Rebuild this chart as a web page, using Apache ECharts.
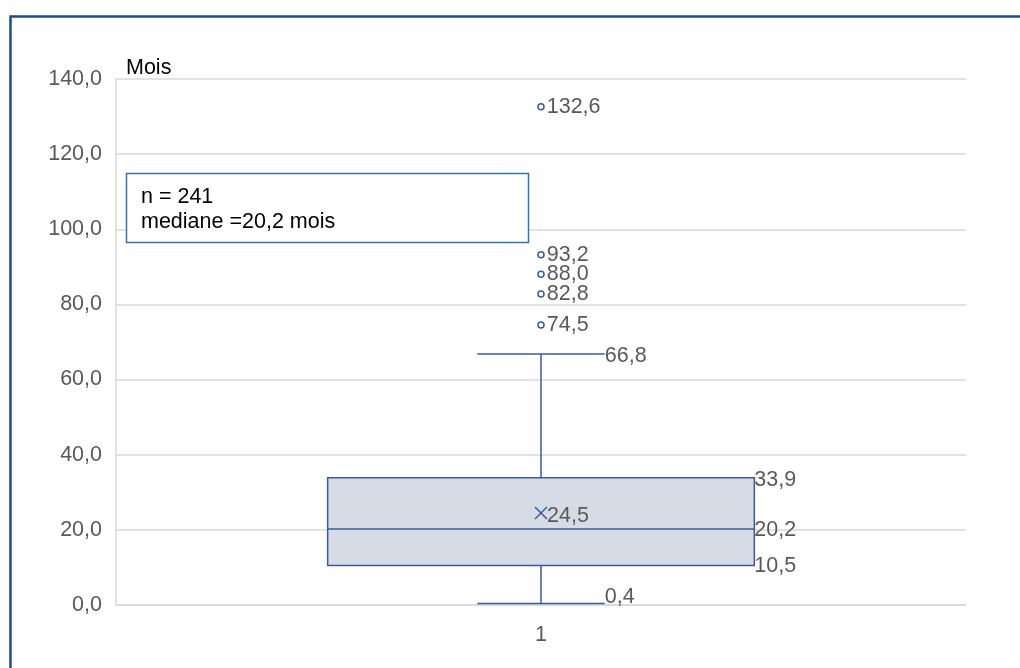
<!DOCTYPE html>
<html>
<head>
<meta charset="utf-8">
<script src="https://cdn.jsdelivr.net/npm/echarts@6/dist/echarts.min.js"></script>
<style>
html,body{margin:0;padding:0;background:#fff;}
#chart{width:1020px;height:668px;}
</style>
</head>
<body>
<div id="chart"></div>
<script>
// ---- data ----
const categories = ['1'];
const boxStats = [0.4, 10.5, 20.2, 33.9, 66.8]; // min, Q1, median, Q3, max
const meanValue = 24.5;
const outliers = [132.6, 93.2, 88.0, 82.8, 74.5];
const yMin = 0, yMax = 140, yInterval = 20;
const axisTitle = 'Mois';
const annotationLines = ['n = 241', 'mediane =20,2 mois'];

const FONT = '"Liberation Sans", Arial, sans-serif';
const FS = 21.5;
const GRAY = '#595959';
const BLUE = '#3A5A9E';
const fmt = v => v.toFixed(1).replace('.', ',');

const chart = echarts.init(document.getElementById('chart'));

const option = {
  animation: false,
  backgroundColor: '#fff',
  textStyle: { fontFamily: FONT },
  grid: { left: 116, right: 54, top: 79, bottom: 63 },
  xAxis: {
    type: 'category',
    data: categories,
    axisLine: { show: true, lineStyle: { color: '#d9d9d9', width: 1.5 } },
    axisTick: { show: false },
    axisLabel: { color: GRAY, fontSize: FS, fontFamily: FONT, margin: 19 },
    splitLine: { show: false }
  },
  yAxis: {
    type: 'value',
    min: yMin, max: yMax, interval: yInterval,
    axisLine: { show: true, lineStyle: { color: '#d9d9d9', width: 1.5 } },
    axisTick: { show: false },
    axisLabel: { color: GRAY, fontSize: FS, fontFamily: FONT, margin: 14, formatter: v => fmt(v) },
    splitLine: { show: true, lineStyle: { color: '#d9d9d9', width: 1.5 } }
  },
  graphic: [
    { type: 'rect', z: 100, shape: { x: 10.5, y: 16.5, width: 1200, height: 1000 },
      style: { fill: 'none', stroke: '#1B4F84', lineWidth: 2.5 } },
    { type: 'text', z: 100, x: 126, y: 68,
      style: { text: axisTitle, fill: '#000', fontSize: FS, fontFamily: FONT, verticalAlign: 'middle' } },
    { type: 'rect', z: 100, shape: { x: 126.5, y: 173.5, width: 402, height: 69 },
      style: { fill: '#fff', stroke: '#2E75B6', lineWidth: 1.5 } },
    { type: 'text', z: 101, x: 141, y: 197,
      style: { text: annotationLines[0], fill: '#000', fontSize: FS, fontFamily: FONT, verticalAlign: 'middle' } },
    { type: 'text', z: 101, x: 141, y: 222,
      style: { text: annotationLines[1], fill: '#000', fontSize: FS, fontFamily: FONT, verticalAlign: 'middle' } }
  ],
  series: [
    {
      type: 'custom',
      data: [[0].concat(boxStats, [meanValue])],
      encode: { x: 0, y: [1, 2, 3, 4, 5, 6] },
      z: 5,
      renderItem: function (params, api) {
        const xi = api.value(0);
        const band = api.size([1, 0])[0];
        const p = i => api.coord([xi, api.value(i)]);
        const pMin = p(1), pQ1 = p(2), pMed = p(3), pQ3 = p(4), pMax = p(5), pMean = p(6);
        const cx = pMin[0];
        const hb = band * 0.251, hc = band * 0.075;
        const ls = { stroke: BLUE, lineWidth: 1.5, fill: 'none' };
        const lab = (x, y, v, dy) => ({
          type: 'text', x: x, y: y + (dy || 0),
          style: { text: fmt(v), fill: GRAY, fontSize: FS, fontFamily: FONT, verticalAlign: 'middle', align: 'left' }
        });
        return {
          type: 'group',
          children: [
            { type: 'line', shape: { x1: cx, y1: pQ3[1], x2: cx, y2: pMax[1] }, style: ls },
            { type: 'line', shape: { x1: cx, y1: pQ1[1], x2: cx, y2: pMin[1] }, style: ls },
            { type: 'line', shape: { x1: cx - hc, y1: pMax[1], x2: cx + hc, y2: pMax[1] }, style: ls },
            { type: 'line', shape: { x1: cx - hc, y1: pMin[1], x2: cx + hc, y2: pMin[1] }, style: ls },
            { type: 'rect', shape: { x: cx - hb, y: pQ3[1], width: 2 * hb, height: pQ1[1] - pQ3[1] },
              style: { fill: '#D6DCE5', stroke: BLUE, lineWidth: 1.5 } },
            { type: 'line', shape: { x1: cx - hb, y1: pMed[1], x2: cx + hb, y2: pMed[1] }, style: ls },
            { type: 'line', shape: { x1: cx - 6, y1: pMean[1] - 6, x2: cx + 6, y2: pMean[1] + 6 }, style: ls },
            { type: 'line', shape: { x1: cx + 6, y1: pMean[1] - 6, x2: cx - 6, y2: pMean[1] + 6 }, style: ls },
            lab(cx + hc, pMax[1], api.value(5), 2),
            lab(cx + hc, pMin[1], api.value(1), -6),
            lab(cx + hb, pQ3[1], api.value(4), 2),
            lab(cx + hb, pMed[1], api.value(3), 1),
            lab(cx + hb, pQ1[1], api.value(2), 1),
            lab(cx + 6, pMean[1], api.value(6), 3)
          ]
        };
      }
    },
    {
      type: 'scatter',
      data: outliers.map(v => [0, v]),
      symbol: 'circle',
      symbolSize: 6,
      z: 6,
      itemStyle: { color: '#fff', borderColor: BLUE, borderWidth: 1.5, opacity: 1 },
      label: {
        show: true, position: 'right', distance: 2,
        color: GRAY, fontSize: FS, fontFamily: FONT,
        formatter: p => fmt(p.value[1])
      }
    }
  ]
};
chart.setOption(option);
</script>
</body>
</html>
